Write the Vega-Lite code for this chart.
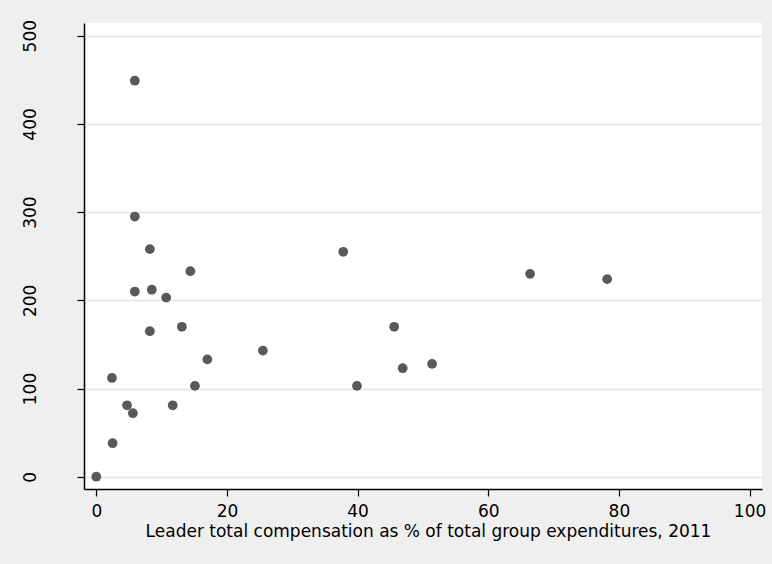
{
  "$schema": "https://vega.github.io/schema/vega-lite/v6.json",
  "width": 678,
  "height": 466,
  "autosize": "none",
  "padding": {"left": 84, "top": 23, "right": 10, "bottom": 75},
  "background": "#efefef",
  "config": {
    "view": {"fill": "white", "stroke": null},
    "font": "DejaVu Sans",
    "axis": {
      "domainColor": "black",
      "domainWidth": 1.5,
      "tickColor": "black",
      "tickWidth": 1.2,
      "tickSize": 7,
      "labelColor": "black",
      "labelFont": "DejaVu Sans",
      "labelFontSize": 17,
      "titleFont": "DejaVu Sans",
      "titleFontSize": 17,
      "titleFontWeight": "normal",
      "titleColor": "black"
    }
  },
  "data": {
    "values": [
      {"pct": 0, "val": 0},
      {"pct": 2.4, "val": 112},
      {"pct": 2.5, "val": 38},
      {"pct": 4.7, "val": 81},
      {"pct": 5.6, "val": 72},
      {"pct": 5.9, "val": 449},
      {"pct": 5.9, "val": 295},
      {"pct": 5.9, "val": 210},
      {"pct": 8.2, "val": 258},
      {"pct": 8.5, "val": 212},
      {"pct": 8.2, "val": 165},
      {"pct": 10.7, "val": 203},
      {"pct": 11.7, "val": 81},
      {"pct": 13.1, "val": 170},
      {"pct": 14.4, "val": 233},
      {"pct": 15.1, "val": 103},
      {"pct": 17.0, "val": 133},
      {"pct": 25.5, "val": 143},
      {"pct": 37.8, "val": 255},
      {"pct": 39.9, "val": 103},
      {"pct": 45.6, "val": 170},
      {"pct": 46.9, "val": 123},
      {"pct": 51.4, "val": 128},
      {"pct": 66.4, "val": 230},
      {"pct": 78.2, "val": 224}
    ]
  },
  "mark": {"type": "point", "filled": true, "size": 95, "color": "#595959", "opacity": 1},
  "encoding": {
    "x": {
      "field": "pct",
      "type": "quantitative",
      "scale": {"domain": [-1.88, 101.9], "nice": false, "zero": false},
      "axis": {
        "values": [0, 20, 40, 60, 80, 100],
        "grid": false,
        "labelPadding": 7,
        "titlePadding": 4,
        "titleX": 344,
        "title": "Leader total compensation as % of total group expenditures, 2011"
      }
    },
    "y": {
      "field": "val",
      "type": "quantitative",
      "scale": {"domain": [-13.9, 514.4], "nice": false, "zero": false},
      "axis": {
        "values": [0, 100, 200, 300, 400, 500],
        "grid": true,
        "gridColor": "#e4e4e4",
        "gridWidth": 1.5,
        "labelAngle": 270,
        "labelAlign": "center",
        "labelBaseline": "alphabetic",
        "labelPadding": 42,
        "title": null
      }
    }
  }
}
